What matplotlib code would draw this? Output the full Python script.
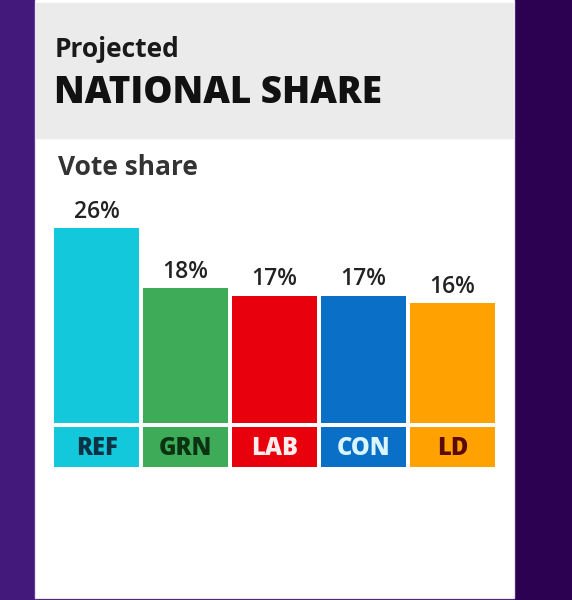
import matplotlib
matplotlib.use("Agg")
import matplotlib.pyplot as plt
from matplotlib.patches import Rectangle

parties = ["REF", "GRN", "LAB", "CON", "LD"]
shares = [26, 18, 17, 17, 16]
bar_colors = ["#14c8dc", "#3dab57", "#e8000d", "#0a6fc7", "#ffa100"]
label_colors = ["#0b3344", "#0b3312", "#ffecec", "#d9f6ff", "#5a0a0a"]

W, H = 572, 600
FONT = "Open Sans"


def fx(px):
    return px / W


def fy(py):
    # pixel row from the top -> figure fraction
    return 1 - py / H


fig = plt.figure(figsize=(W / 100, H / 100), dpi=100)
fig.patch.set_facecolor("#2c0152")

# background: left purple strip, white card, grey header
bg = fig.add_axes([0, 0, 1, 1])
bg.set_xlim(0, W)
bg.set_ylim(H, 0)
bg.axis("off")
bg.add_patch(Rectangle((0, 0), 36, H, color="#43197c"))
bg.add_patch(Rectangle((35, 0), 479, 598, color="#e6dcf2"))
bg.add_patch(Rectangle((36, 0), 477, 597, color="white"))
bg.add_patch(Rectangle((36, 3), 477, 135, color="#ebebeb"))

fig.text(fx(55), fy(57), "Projected", family=FONT, fontsize=19,
         fontweight="bold", color="#1a1a1a", va="baseline")
fig.text(fx(54), fy(103), "NATIONAL SHARE", family=FONT, fontsize=26.5,
         fontweight="heavy", color="#111111", va="baseline")
fig.text(fx(58), fy(175), "Vote share", family=FONT, fontsize=19,
         fontweight="bold", color="#333333", va="baseline")

# bars: baseline at pixel row 423, 7.5 px per percentage point
ymax = 31
top_px = 423 - ymax * 7.5
ax = fig.add_axes([fx(52), fy(423), fx(445), (423 - top_px) / H])
x = list(range(len(parties)))
ax.bar(x, shares, width=85 / 89, color=bar_colors)
for xi, v in zip(x, shares):
    ax.annotate(f"{v}%", (xi, v), xytext=(0, 3), textcoords="offset points",
                ha="center", va="bottom", family=FONT, fontsize=16.5,
                fontweight="semibold", color="#222222")
ax.set_xlim(-0.5, len(parties) - 0.5)
ax.set_ylim(0, ymax)
ax.axis("off")

# party name boxes under the bars
lab = fig.add_axes([fx(52), fy(467), fx(445), 40 / H])
lab.bar(x, [1] * len(parties), width=85 / 89, color=bar_colors)
for xi, name, c in zip(x, parties, label_colors):
    lab.text(xi, 0.47, name, ha="center", va="center", family=FONT,
             fontsize=17, fontweight="heavy", color=c)
lab.set_xlim(-0.5, len(parties) - 0.5)
lab.set_ylim(0, 1)
lab.axis("off")

plt.savefig("out.png", dpi=100)
